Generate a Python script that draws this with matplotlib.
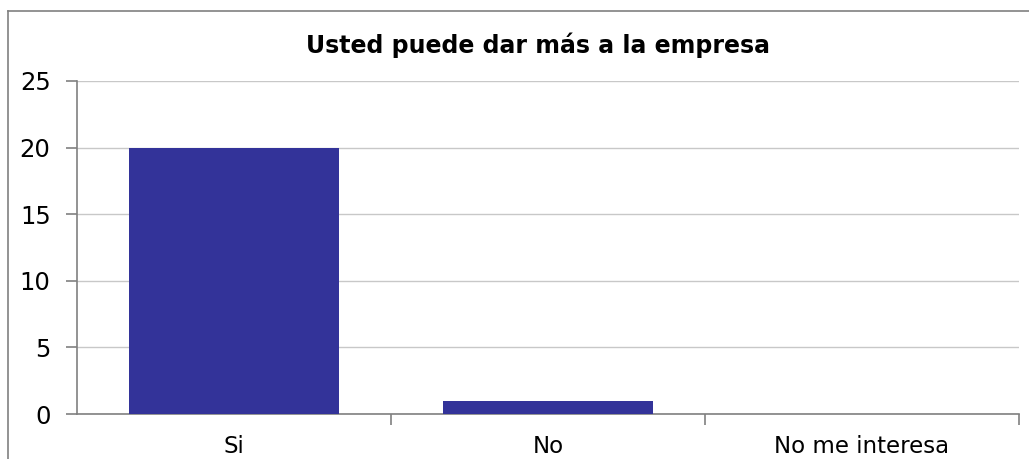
import matplotlib.pyplot as plt
from matplotlib.lines import Line2D

categories = ["Si", "No", "No me interesa"]
values = [20, 1, 0]
yticks = [0, 5, 10, 15, 20, 25]

fig = plt.figure(figsize=(10.29, 4.59), dpi=100)
ax = fig.add_axes([77 / 1029, 1 - 414 / 459, (1019 - 77) / 1029, (414 - 81) / 459])

# outer chart frame (only left and top visible)
fig.add_artist(Line2D([8 / 1029, 8 / 1029], [0, 1 - 11 / 459], transform=fig.transFigure,
                      color="#808080", lw=1.2))
fig.add_artist(Line2D([8 / 1029, 1], [1 - 11 / 459, 1 - 11 / 459], transform=fig.transFigure,
                      color="#808080", lw=1.2))

x = range(len(categories))
ax.bar(x, values, width=0.67, color="#333399", zorder=3)

ax.set_xlim(-0.5, len(categories) - 0.5)
ax.set_ylim(0, 25)
ax.set_yticks(yticks)
ax.set_yticklabels([str(t) for t in yticks], fontsize=17.5)
ax.yaxis.grid(True, color="#c8c8c8", lw=1)
ax.set_axisbelow(True)

# category labels centred, ticks at boundaries
ax.set_xticks([i + 0.5 for i in x])
ax.set_xticklabels([])
ax.set_xticks(list(x), minor=True)
ax.set_xticklabels(categories, minor=True, fontsize=16.5)
ax.tick_params(axis="x", which="minor", length=0, pad=15)
ax.tick_params(axis="x", which="major", length=8, color="#808080", width=1.2)
ax.tick_params(axis="y", length=8, color="#808080", width=1.2, pad=11)

for s in ["top", "right"]:
    ax.spines[s].set_visible(False)
for s in ["left", "bottom"]:
    ax.spines[s].set_color("#808080")
    ax.spines[s].set_linewidth(1.2)

fig.text(538 / 1029, 1 - 45 / 459, "Usted puede dar más a la empresa", ha="center", va="center",
         fontsize=17, fontweight="bold")

fig.savefig("out.png", dpi=100)
